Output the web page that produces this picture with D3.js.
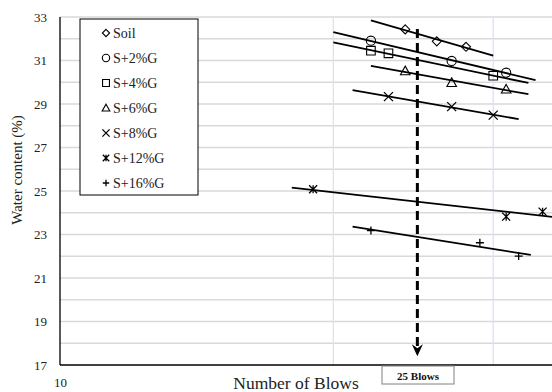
<!DOCTYPE html>
<html><head><meta charset="utf-8">
<script src="https://cdn.jsdelivr.net/npm/d3@7"></script>
<style>body{margin:0;background:#fff}svg{display:block}text{font-family:"Liberation Serif","Times New Roman",serif}</style>
</head><body><svg id="c" width="552" height="392"></svg>
<script>
const seriesNames = ["Soil","S+2%G","S+4%G","S+6%G","S+8%G","S+12%G","S+16%G"];
const seriesMarkers = ["diamond","circle","square","triangle","x","asterisk","plus"];
const blows = [
  [24,26,28],[22,27,31],[22,23,30],[24,27,31],[23,27,30],[19,31,34],[22,29,32]
];
const waterContent = [
  [32.43,31.88,31.63],[31.91,30.98,30.44],[31.45,31.33,30.30],[30.52,29.98,29.68],
  [29.34,28.88,28.49],[25.08,23.82,24.05],[23.18,22.62,22.01]
];
const trendStart = [22,20,20,22,21,18,21];
const trendEnd = [30,33.4,32.8,32.8,32,36,33];
const yTicks = [17,19,21,23,25,27,29,31,33];
const yGrid = d3.range(17,34,1);
const xGrid = [20,30];
const xTickLabels = ["10"];
const arrowBlows = 24.75, arrowTop = 32.45, arrowTip = 17.4;

const svg = d3.select("#c");
const L=60, T=17, B=365;
const x = d3.scaleLog().domain([10,100]).range([L, L+908]);
const y = d3.scaleLinear().domain([17,33]).range([B,T]);

svg.append("defs").append("clipPath").attr("id","clip").append("rect")
  .attr("x",L).attr("y",T-2).attr("width",552-L).attr("height",B-T+2);

// gridlines
svg.append("g").selectAll("line").data(yGrid.filter(v=>v>17)).join("line")
  .attr("x1",L).attr("x2",552).attr("y1",d=>y(d)).attr("y2",d=>y(d))
  .attr("stroke","#d9d9d9").attr("stroke-width",1.3);
svg.append("g").selectAll("line").data(xGrid).join("line")
  .attr("x1",d=>x(d)).attr("x2",d=>x(d)).attr("y1",T).attr("y2",B)
  .attr("stroke","#dae3f3").attr("stroke-width",1.3);

// axes
const yAxis = d3.axisLeft(y).tickValues(yTicks).tickSize(0).tickPadding(13).tickFormat(d3.format("d"));
const ya = svg.append("g").attr("transform",`translate(${L},0)`).call(yAxis);
ya.select(".domain").attr("stroke","#000").attr("stroke-width",1.3).attr("d",`M0,${T}V${B}`);
ya.selectAll("text").attr("font-size",13).attr("fill","#222").attr("font-family","Liberation Serif");

const xAxis = d3.axisBottom(x).tickValues([10]).tickSize(0).tickPadding(13).tickFormat((d,i)=>xTickLabels[i]);
const xa = svg.append("g").attr("transform",`translate(0,${B})`).call(xAxis);
xa.select(".domain").attr("stroke","#000").attr("stroke-width",1.6).attr("d",`M${L},0H552`);
xa.selectAll("text").attr("font-size",13).attr("fill","#222").attr("font-family","Liberation Serif");

// axis titles
svg.append("text").attr("x",296).attr("y",389).attr("text-anchor","middle")
  .attr("font-size",17.5).attr("fill","#222").text("Number of Blows");
svg.append("text").attr("transform","translate(22,170) rotate(-90)").attr("text-anchor","middle")
  .attr("font-size",15).attr("fill","#222").text("Water content (%)");

// marker symbol
function marker(g, type, s){
  const p = g.append("path").attr("fill","none").attr("stroke","#000").attr("stroke-width",1.1);
  let d;
  if(type==="diamond") d=`M0,${-s}L${s},0L0,${s}L${-s},0Z`;
  else if(type==="circle") d=`M${s},0A${s},${s} 0 1,1 ${-s},0A${s},${s} 0 1,1 ${s},0Z`;
  else if(type==="square") d=`M${-s},${-s}H${s}V${s}H${-s}Z`;
  else if(type==="triangle") d=`M0,${-s}L${s},${s*0.8}H${-s}Z`;
  else if(type==="x") d=`M${-s},${-s}L${s},${s}M${s},${-s}L${-s},${s}`;
  else if(type==="asterisk") d=`M${-s},${-s}L${s},${s}M${s},${-s}L${-s},${s}M0,${-s}V${s}`;
  else if(type==="plus") d=`M${-s},0H${s}M0,${-s}V${s}`;
  p.attr("d",d);
  if(type==="x"||type==="asterisk"||type==="plus") p.attr("stroke-width",1.3);
  return p;
}
const sizes = {diamond:4.5,circle:4.6,square:4.3,triangle:4.8,x:4.5,asterisk:4,plus:4};

const plot = svg.append("g").attr("clip-path","url(#clip)");

// trendlines (logarithmic fit)
seriesNames.forEach((n,i)=>{
  const lx = blows[i].map(v=>Math.log10(v)), ly = waterContent[i];
  const mx = d3.mean(lx), my = d3.mean(ly);
  const slope = d3.sum(lx.map((v,k)=>(v-mx)*(ly[k]-my)))/d3.sum(lx.map(v=>(v-mx)*(v-mx)));
  const f = v => my + slope*(Math.log10(v)-mx);
  plot.append("line")
    .attr("x1",x(trendStart[i])).attr("y1",y(f(trendStart[i])))
    .attr("x2",x(trendEnd[i])).attr("y2",y(f(trendEnd[i])))
    .attr("stroke","#000").attr("stroke-width",1.8);
});

// markers
seriesNames.forEach((n,i)=>{
  blows[i].forEach((b,k)=>{
    const g = plot.append("g").attr("transform",`translate(${x(b)},${y(waterContent[i][k])})`);
    marker(g, seriesMarkers[i], sizes[seriesMarkers[i]]);
  });
});

// dashed arrow at 25 blows
const ax = x(arrowBlows);
svg.append("line").attr("x1",ax).attr("x2",ax).attr("y1",y(arrowTop)).attr("y2",y(arrowTip)-10)
  .attr("stroke","#000").attr("stroke-width",3).attr("stroke-dasharray","9,5");
const tipY = y(arrowTip);
svg.append("path").attr("d",`M${ax},${tipY}L${ax-5.5},${tipY-12}L${ax},${tipY-8}L${ax+5.5},${tipY-12}Z`).attr("fill","#000");

// 25 Blows box
const bx = svg.append("g");
bx.append("rect").attr("x",382).attr("y",366).attr("width",72).attr("height",18)
  .attr("fill","#fff").attr("stroke","#808080").attr("stroke-width",1);
bx.append("text").attr("x",418).attr("y",379.5).attr("text-anchor","middle")
  .attr("font-size",11).attr("font-weight","bold").attr("fill","#111").text("25 Blows");

// legend
const lg = svg.append("g");
lg.append("rect").attr("x",80).attr("y",19).attr("width",118).attr("height",176)
  .attr("fill","#fff").attr("stroke","#000").attr("stroke-width",1);
seriesNames.forEach((n,i)=>{
  const cy = 33 + i*25;
  const g = lg.append("g").attr("transform",`translate(106,${cy})`);
  marker(g, seriesMarkers[i], sizes[seriesMarkers[i]]*0.8);
  lg.append("text").attr("x",113).attr("y",cy+4.5).attr("font-size",14).attr("fill","#222").text(n);
});
</script></body></html>
